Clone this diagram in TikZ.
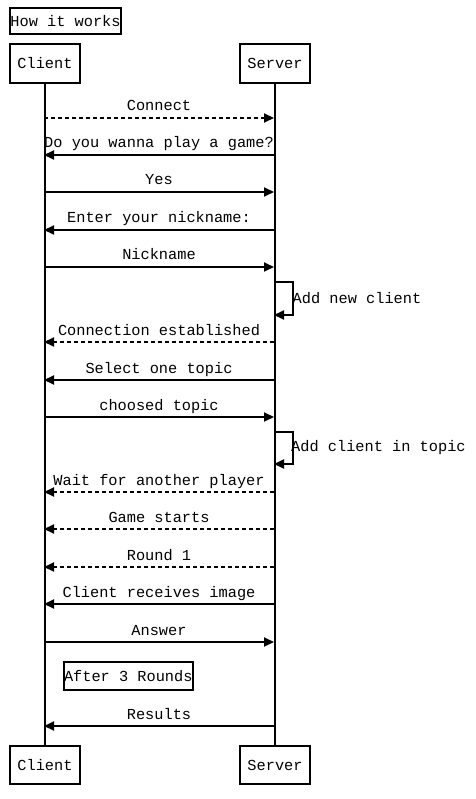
\documentclass[tikz,border=0pt]{standalone}
\usepackage{fontspec}
\newfontfamily\cour{Liberation Mono}
\usetikzlibrary{arrows.meta}
\begin{document}
\begin{tikzpicture}[x=1pt,y=-1pt,
  every node/.style={font=\cour\fontsize{15.3}{16}\selectfont, inner sep=0pt},
  box/.style={draw, line width=2pt, inner xsep=0pt, inner ysep=0pt, anchor=north west},
  life/.style={line width=2pt},
  msg/.style={line width=2pt, -{Triangle[length=10pt,width=9pt]}},
  rmsg/.style={msg, dash pattern=on 4pt off 3pt},
  lbl/.style={anchor=base}
]
\useasboundingbox (0,0) rectangle (475,799);
% title
\node[box, minimum width=111pt, minimum height=26pt] (title) at (9,7) {How it works};
% participants
\node[box, minimum width=70pt, minimum height=39pt] (ct) at (9,43) {Client};
\node[box, minimum width=70pt, minimum height=39pt] (st) at (239,43) {Server};
\node[box, minimum width=70pt, minimum height=38pt] (cb) at (9,745) {Client};
\node[box, minimum width=70pt, minimum height=38pt] (sb) at (239,745) {Server};
\draw[life] (ct.south) -- (cb.north);
\draw[life] (st.south) -- (sb.north);
% messages
\newcommand{\msgr}[4]{% y, label, style, name
  \coordinate (c#4) at (44,#1); \coordinate (s#4) at (274,#1);
  \draw[#3] (c#4) -- (s#4) node[lbl, pos=0.5, yshift=7pt] {#2};}
\newcommand{\msgl}[4]{%
  \coordinate (c#4) at (44,#1); \coordinate (s#4) at (274,#1);
  \draw[#3] (s#4) -- (c#4) node[lbl, pos=0.5, yshift=7pt] {#2};}
\msgr{118}{Connect}{rmsg}{a}
\msgl{155}{Do you wanna play a game?}{msg}{b}
\msgr{192}{Yes}{msg}{c}
\msgl{230}{Enter your nickname:}{msg}{d}
\msgr{267}{Nickname}{msg}{e}
% self 1
\coordinate (f1) at (274,282); \coordinate (f2) at (274,315);
\draw[msg] (f1) -- (293,282) -- (293,315) -- (f2);
\node[anchor=west] (fl) at (292.5,298) {Add new client};
\msgl{342}{Connection established}{rmsg}{g}
\msgl{380}{Select one topic}{msg}{h}
\msgr{417}{choosed topic}{msg}{i}
% self 2
\coordinate (j1) at (274,432); \coordinate (j2) at (274,464);
\draw[msg] (j1) -- (293,432) -- (293,464) -- (j2);
\node[anchor=west] (jl) at (291,448) {Add client in topic};
\msgl{492}{Wait for another player}{rmsg}{k}
\msgl{529}{Game starts}{rmsg}{l}
\msgl{567}{Round 1}{rmsg}{m}
\msgl{604}{Client receives image}{msg}{n}
\msgr{642}{Answer}{msg}{o}
\node[box, minimum width=128pt, minimum height=28pt] (after) at (63,661) {After 3 Rounds};
\msgl{726}{Results}{msg}{p}
\end{tikzpicture}
\end{document}
